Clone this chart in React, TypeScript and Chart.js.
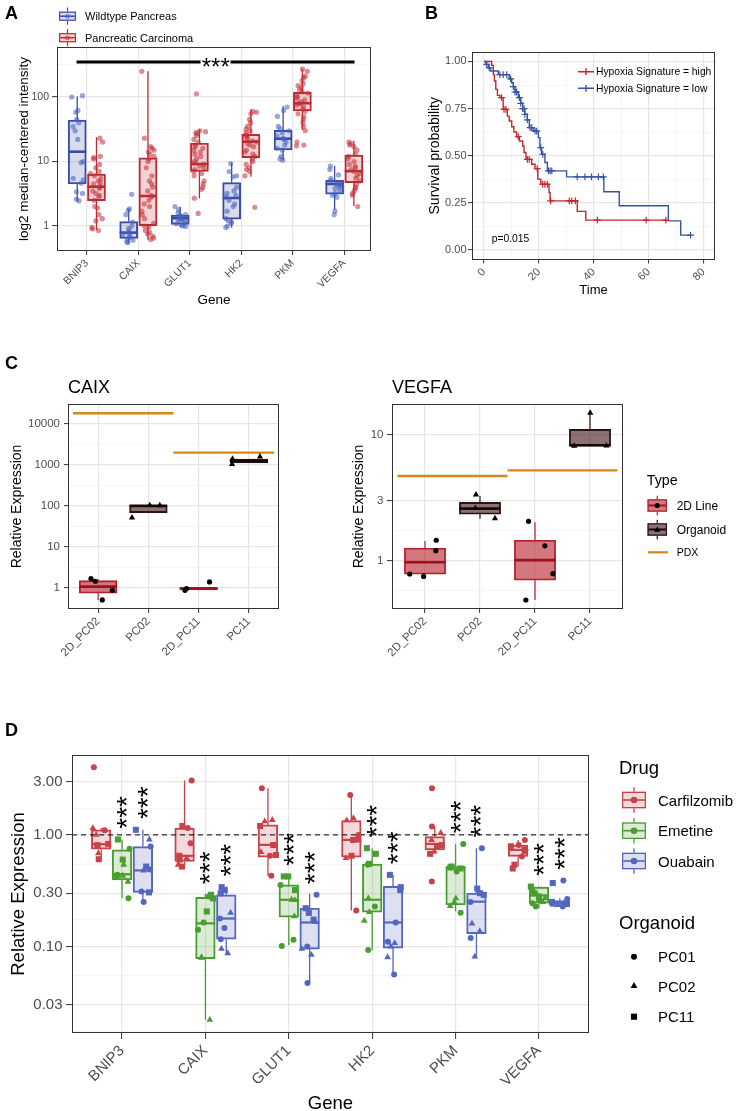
import React, { useEffect, useRef } from "react";
import { Chart, registerables } from "chart.js";

Chart.register(...registerables);

const FONT = "'Liberation Sans', Arial, Helvetica, sans-serif";
Chart.defaults.font.family = FONT;

/* ================= Panel A data ================= */
const genesA = ["BNIP3", "CAIX", "GLUT1", "HK2", "PKM", "VEGFA"];
const groupsA = ["Wildtype Pancreas", "Pancreatic Carcinoma"];
const yTicksA = [1, 10, 100];
const wtQ1 = [4.5, 0.645, 1.06, 1.28, 15.1, 3.13];
const wtMed = [14.2, 0.79, 1.32, 2.72, 22.6, 4.48];
const wtQ3 = [44, 1.17, 1.48, 4.7, 30.5, 5.1];
const wtLo = [2.4, 0.54, 0.97, 0.94, 10.5, 1.77];
const wtHi = [102, 1.81, 1.99, 9.6, 72.5, 8.6];
const pcQ1 = [2.47, 1.01, 7.05, 11.5, 60.7, 4.7];
const pcMed = [4.07, 2.92, 9.15, 20.3, 80, 7.1];
const pcQ3 = [6.4, 11.4, 19.2, 26.4, 118, 12.6];
const pcLo = [0.87, 0.61, 2.69, 5.8, 30.8, 2.04];
const pcHi = [23.7, 250, 31.6, 64.5, 272, 21];
const wtPts = [
  [105, 100, 62, 58, 45, 40, 35, 30, 22, 10, 9.6, 5.5, 5.2, 4.6, 3.4, 3.2, 2.6, 2.45],
  [3.1, 1.85, 1.75, 1.5, 1.15, 1.0, 0.92, 0.85, 0.78, 0.74, 0.7, 0.66, 0.63, 0.6, 0.57, 0.55],
  [2.0, 1.8, 1.6, 1.5, 1.45, 1.4, 1.35, 1.3, 1.27, 1.22, 1.18, 1.12, 1.08, 1.04, 1.0, 0.98],
  [9.3, 7.0, 6.0, 5.8, 4.0, 3.5, 3.2, 3.0, 2.8, 2.5, 2.2, 2.0, 1.7, 1.3, 1.22, 1.15, 1.1, 1.0, 0.95],
  [70, 62, 50, 35, 32, 30, 28, 25, 23, 22, 20, 18, 16, 15, 12, 11, 10.5],
  [8.5, 7.5, 6.2, 5.5, 5.0, 4.8, 4.5, 4.4, 4.2, 4.0, 3.8, 3.5, 3.2, 3.0, 2.8, 1.7, 1.5],
];
const pcPts = [
  [23, 20, 12, 11.5, 11, 9, 8, 7, 6.5, 6, 5.5, 5, 4.8, 4.5, 4.2, 4, 3.8, 3.5, 3.2, 3, 2.8, 2.5, 2, 1.9, 1.5, 1.3, 1.2, 0.95, 0.9, 0.85],
  [250, 23, 17, 16, 15, 14, 13, 12, 11, 10, 8, 6, 5, 4.5, 4, 3.5, 3, 2.8, 2.5, 2.2, 2, 1.7, 1.5, 1.3, 1.1, 1.0, 0.95, 0.85, 0.8, 0.75, 0.7, 0.65, 0.62],
  [112, 30, 29, 28, 27, 25, 22, 20, 18, 17, 16, 15, 14, 13, 12, 11, 10, 9.5, 9, 8.5, 8, 7.5, 7, 6.5, 6, 5, 4.5, 4, 3.7, 2.7, 1.57],
  [60, 58, 55, 45, 40, 35, 32, 30, 28, 26, 25, 24, 22, 21, 20, 19, 18, 17, 15, 14, 13, 12, 11, 10, 9, 8, 7.5, 7, 6, 1.95],
  [270, 250, 210, 200, 180, 160, 150, 140, 130, 120, 115, 110, 100, 95, 90, 85, 80, 78, 75, 70, 65, 60, 55, 50, 45, 40, 35, 30, 20, 18, 17.5],
  [20, 19, 18, 17, 15, 13, 12, 11, 10, 9, 8.5, 8, 7.5, 7, 6.5, 6, 5.5, 5, 4.5, 4, 3.8, 3.5, 3.2, 3, 2],
];
const sigLevelA = 350;
const sigFromA = -0.2;
const sigToA = 5.2;
const sigLabelA = "***";

/* ================= Panel B data ================= */
const kmLabels = ["Hypoxia Signature = high", "Hypoxia Signature = low"];
const kmPValue = "p=0.015";
const kmHighTimes = [2.8, 3.4, 3.8, 4.3, 4.9, 5.8, 7.0, 8.5, 9.2, 10.1, 10.9, 11.9, 12.9, 14.1, 14.6, 15.3, 17.4, 18.6, 19.6, 20.7, 23.7, 24.1, 34.0, 37.1];
const kmHighSurv = [0.979, 0.93, 0.896, 0.852, 0.82, 0.808, 0.746, 0.71, 0.684, 0.654, 0.626, 0.601, 0.578, 0.552, 0.517, 0.481, 0.455, 0.432, 0.376, 0.349, 0.305, 0.261, 0.205, 0.159];
const kmHighEnd = 66.6;
const kmHighCensor = [6.4, 7.3, 8.0, 12.5, 15.8, 16.5, 19.4, 21.4, 22.2, 23.1, 24.3, 31.1, 32.0, 33.3, 41.3, 59.1, 66.3];
const kmLowTimes = [0.7, 1.6, 2.4, 5.2, 9.2, 10.1, 10.7, 11.3, 12.5, 13.4, 14.1, 14.9, 15.8, 16.5, 18.0, 19.8, 20.4, 21.0, 22.2, 23.1, 30.1, 43.7, 49.3, 67.2, 71.7];
const kmLowSurv = [0.984, 0.966, 0.949, 0.93, 0.908, 0.887, 0.866, 0.838, 0.808, 0.778, 0.75, 0.72, 0.69, 0.649, 0.631, 0.596, 0.543, 0.508, 0.464, 0.42, 0.388, 0.309, 0.235, 0.155, 0.079];
const kmLowEnd = 75.3;
const kmLowCensor = [1.0, 1.9, 5.8, 7.0, 8.3, 9.7, 10.7, 11.3, 11.9, 12.9, 13.4, 14.1, 14.6, 14.9, 15.8, 16.8, 17.4, 18.6, 19.2, 20.7, 21.4, 23.5, 24.1, 24.7, 34.0, 36.8, 39.2, 41.7, 43.5, 75.3];

/* ================= Panel C data ================= */
const cCats = ["2D_PC02", "PC02", "2D_PC11", "PC11"];
const cTypes = ["2D Line", "Organoid", "PDX"];
const cTypeOfCat = [0, 1, 0, 1];
const pdxGroups = [[0, 1], [2, 3]];
const caixQ1 = [0.727, 68, 0.88, 1114];
const caixMed = [1.06, 100, 0.95, 1247];
const caixQ3 = [1.48, 101, 1.02, 1396];
const caixLo = [0.5, 68, 0.86, 1114];
const caixHi = [1.63, 103, 1.02, 1396];
const caixPts = [[1.43, 1.66, 0.86, 0.5], [102, 103, 51.4], [0.945, 0.86, 1.375], [1592, 1396, 1033]];
const caixPdx = [18240, 1995];
const vegfaQ1 = [0.78, 2.33, 0.699, 8.08];
const vegfaMed = [0.97, 2.58, 1.01, 8.2];
const vegfaQ3 = [1.26, 2.89, 1.45, 10.95];
const vegfaLo = [0.76, 2.15, 0.488, 8.08];
const vegfaHi = [1.43, 3.25, 2.01, 14.6];
const vegfaPts = [[1.45, 1.2, 0.784, 0.75], [2.16, 2.61, 3.33], [2.05, 1.31, 0.789, 0.488], [14.8, 8.13, 8.1]];
const vegfaPdx = [4.68, 5.19];

/* ================= Panel D data ================= */
const dGenes = ["BNIP3", "CAIX", "GLUT1", "HK2", "PKM", "VEGFA"];
const dDrugs = ["Carfilzomib", "Emetine", "Ouabain"];
const dOrganoids = ["PC01", "PC02", "PC11"];
const refLineD = 1;
const carfQ1 = [0.744, 0.577, 0.631, 0.631, 0.734, 0.64];
const carfMed = [0.825, 0.649, 0.814, 0.902, 0.83, 0.734];
const carfQ3 = [1.11, 1.147, 1.229, 1.344, 0.966, 0.81];
const carfLo = [0.6, 0.52, 0.429, 0.21, 0.676, 0.52];
const carfHi = [1.15, 3.07, 2.62, 2.28, 1.19, 0.9];
const emetQ1 = [0.395, 0.0776, 0.183, 0.203, 0.236, 0.244];
const emetMed = [0.444, 0.161, 0.262, 0.262, 0.51, 0.286];
const emetQ3 = [0.734, 0.275, 0.356, 0.546, 0.52, 0.34];
const emetLo = [0.271, 0.022, 0.103, 0.093, 0.206, 0.22];
const emetHi = [0.91, 0.296, 0.424, 0.76, 0.825, 0.344];
const ouabQ1 = [0.305, 0.116, 0.0946, 0.0966, 0.13, 0.228];
const ouabMed = [0.48, 0.178, 0.164, 0.164, 0.252, 0.244];
const ouabQ3 = [0.786, 0.29, 0.22, 0.345, 0.3, 0.258];
const ouabLo = [0.253, 0.087, 0.047, 0.0569, 0.0814, 0.228];
const ouabHi = [1.11, 0.345, 0.296, 0.438, 0.76, 0.27];
const carfPts = [
  [4.04, 1.0, 1.1, 1.15, 0.81, 0.79, 0.685, 0.605, 0.83],
  [3.07, 1.2, 1.15, 0.84, 0.62, 0.6, 0.52, 0.54, 0.65],
  [2.62, 1.32, 1.36, 0.81, 0.66, 0.65, 0.43, 1.2, 0.7],
  [2.28, 1.41, 1.0, 0.91, 0.65, 0.62, 0.21, 1.35, 0.9],
  [2.62, 1.19, 1.04, 0.71, 0.676, 0.81, 0.79, 0.382, 0.9],
  [0.9, 0.79, 0.734, 0.81, 0.54, 0.5, 0.64, 0.7, 0.75],
];
const carfOrg = [
  [0, 1, 0, 1, 2, 0, 1, 2, 2],
  [0, 2, 0, 0, 1, 2, 2, 1, 2],
  [0, 1, 1, 2, 2, 0, 0, 2, 1],
  [0, 1, 0, 2, 2, 1, 0, 1, 2],
  [0, 0, 1, 1, 2, 2, 2, 0, 1],
  [0, 2, 2, 0, 2, 2, 0, 1, 1],
];
const emetPts = [
  [0.91, 0.75, 0.54, 0.44, 0.43, 0.38, 0.27, 0.6, 0.42],
  [0.27, 0.28, 0.29, 0.206, 0.141, 0.164, 0.079, 0.022, 0.08],
  [0.424, 0.424, 0.356, 0.32, 0.262, 0.186, 0.101, 0.115, 0.26],
  [0.76, 0.676, 0.54, 0.27, 0.228, 0.203, 0.17, 0.093, 0.55],
  [0.83, 0.51, 0.47, 0.25, 0.2, 0.23, 0.5, 0.52, 0.27],
  [0.344, 0.31, 0.244, 0.228, 0.28, 0.26, 0.3, 0.27, 0.25],
];
const emetOrg = [
  [2, 0, 1, 0, 1, 1, 0, 2, 2],
  [2, 0, 2, 2, 0, 0, 1, 1, 1],
  [2, 2, 0, 2, 1, 1, 0, 0, 1],
  [2, 2, 0, 1, 0, 1, 1, 0, 2],
  [0, 2, 0, 1, 0, 1, 2, 2, 1],
  [2, 2, 0, 0, 2, 0, 1, 1, 1],
];
const ouabPts = [
  [1.11, 0.91, 0.786, 0.52, 0.49, 0.31, 0.305, 0.25, 0.48],
  [0.32, 0.34, 0.2, 0.146, 0.116, 0.087, 0.095, 0.3, 0.178],
  [0.29, 0.22, 0.174, 0.1, 0.084, 0.047, 0.095, 0.165, 0.2],
  [0.438, 0.32, 0.107, 0.1, 0.08, 0.056, 0.164, 0.34, 0.11],
  [0.76, 0.33, 0.3, 0.25, 0.16, 0.137, 0.119, 0.081, 0.29],
  [0.39, 0.37, 0.266, 0.25, 0.244, 0.228, 0.24, 0.235, 0.25],
];
const ouabOrg = [
  [2, 1, 0, 2, 0, 0, 2, 0, 1],
  [2, 2, 1, 0, 0, 1, 1, 2, 0],
  [0, 2, 2, 0, 1, 0, 1, 1, 2],
  [2, 2, 1, 1, 1, 0, 0, 2, 0],
  [0, 2, 2, 0, 1, 1, 0, 1, 2],
  [0, 2, 0, 2, 1, 0, 2, 1, 1],
];
const sigLabelD = "***";

/* ================= styles ================= */
const GRID_MAJOR = "#E6E6E6";
const GRID_MINOR = "#F2F2F2";
const FRAME = "#333333";
const TICK_TXT = "#4D4D4D";
const A_BLUE = "#3A4DA6";
const A_BLUE_FILL = "rgba(58,77,166,0.2)";
const A_BLUE_PT = "rgba(70,95,190,0.55)";
const A_RED = "#BF2A30";
const A_RED_FILL = "rgba(191,42,48,0.2)";
const A_RED_PT = "rgba(195,45,55,0.55)";
const KM_RED = "#C0282D";
const KM_BLUE = "#3853A4";
const C2D = "#B8202B";
const C2D_FILL = "rgba(180,30,40,0.6)";
const C2D_MED = "#9E1020";
const CORG = "#2A1010";
const CORG_FILL = "rgba(60,20,20,0.6)";
const CORG_MED = "#170606";
const PDX = "#D4881A";
const D_COL = ["#C9424A", "#4A9D2F", "#5566BF"];
const D_FILL = ["rgba(201,66,74,0.2)", "rgba(74,157,47,0.2)", "rgba(85,102,191,0.2)"];
const SHAPES = ["circle", "triangle", "rect"];

type Geo = { left: number; top: number; w: number; h: number; L: number; T: number; R: number; B: number; xAxisH: number };
const geoA: Geo = { left: 0, top: 0, w: 380, h: 310, L: 57, T: 47, R: 371, B: 251, xAxisH: 56 };
const geoB: Geo = { left: 380, top: 0, w: 356, h: 300, L: 92, T: 52, R: 335, B: 259.5, xAxisH: 37.5 };
const geoC1: Geo = { left: 0, top: 330, w: 340, h: 330, L: 68, T: 74, R: 279, B: 279, xAxisH: 50 };
const geoC2: Geo = { left: 340, top: 330, w: 396, h: 330, L: 52, T: 74, R: 283, B: 279, xAxisH: 50 };
const geoD: Geo = { left: 0, top: 690, w: 736, h: 421, L: 72, T: 65, R: 589, B: 343, xAxisH: 78 };

/* ================= helpers ================= */
function jitter(seed: number, i: number): number {
  const s = Math.sin(seed * 78.233 + (i + 1) * 12.9898) * 43758.5453;
  return s - Math.floor(s) - 0.5;
}
const unitPx = (g: Geo, min: number, max: number) => (g.R - g.L) / (max - min);

function axis(o: any): any {
  const minor: number[] = o.minor || [];
  const all = [...o.major, ...minor].sort((a, b) => a - b);
  const isMajor = (v: number) => o.major.some((m: number) => Math.abs(m - v) <= 1e-9 * Math.max(1, Math.abs(m)));
  const horiz = o.pos === "bottom";
  const tickMajor = (c: any) => (c && c.tick ? isMajor(c.tick.value) : true);
  return {
    type: o.type,
    position: o.pos,
    min: o.min,
    max: o.max,
    offset: false,
    afterFit: (s: any) => {
      if (horiz) s.height = o.fit;
      else s.width = o.fit;
    },
    afterBuildTicks: (s: any) => {
      s.ticks = all.map((v) => ({ value: v }));
    },
    ticks: {
      autoSkip: false,
      padding: o.pad,
      color: TICK_TXT,
      font: { size: o.size },
      minRotation: o.rot || 0,
      maxRotation: o.rot || 0,
      callback: (v: number) => (isMajor(v) ? o.fmt(v) : ""),
    },
    grid: {
      offset: false,
      drawTicks: true,
      tickLength: o.tickLen,
      tickWidth: 1,
      color: (c: any) => (tickMajor(c) ? GRID_MAJOR : GRID_MINOR),
      lineWidth: (c: any) => (tickMajor(c) ? 1.2 : 0.8),
      tickColor: (c: any) => (tickMajor(c) ? FRAME : "rgba(0,0,0,0)"),
    },
    border: { display: false },
    title: o.title
      ? {
          display: true,
          text: o.title,
          color: "#000",
          font: { size: o.titleSize, lineHeight: o.titleLH || 1 },
          padding: { top: o.titlePad || 0, bottom: o.titlePad || 0 },
        }
      : { display: false },
  };
}

function baseOptions(g: Geo, scales: any): any {
  return {
    responsive: false,
    maintainAspectRatio: false,
    animation: false,
    devicePixelRatio: 1,
    events: [],
    layout: { padding: { left: 0, top: g.T, right: g.w - g.R, bottom: g.h - g.B - g.xAxisH } },
    plugins: { legend: { display: false }, tooltip: { enabled: false }, title: { display: false } },
    scales,
  };
}

const framePlugin = {
  id: "frame",
  afterDraw(chart: any) {
    const { ctx, chartArea: a } = chart;
    ctx.save();
    ctx.strokeStyle = FRAME;
    ctx.lineWidth = 1;
    ctx.strokeRect(Math.round(a.left) + 0.5, Math.round(a.top) + 0.5, Math.round(a.right - a.left) - 1, Math.round(a.bottom - a.top) - 1);
    ctx.restore();
  },
};

const boxPlugin = {
  id: "boxstats",
  afterDatasetDraw(chart: any, args: any) {
    const ds = chart.data.datasets[args.index];
    if (!ds || !ds.boxStats) return;
    const ctx = chart.ctx;
    const xs = chart.scales.x;
    const ys = chart.scales.y;
    const a = chart.chartArea;
    const half = ds.barThickness / 2;
    ctx.save();
    ctx.beginPath();
    ctx.rect(a.left, a.top, a.right - a.left, a.bottom - a.top);
    ctx.clip();
    for (const b of ds.boxStats) {
      const x = xs.getPixelForValue(b.x);
      ctx.strokeStyle = ds.borderColor;
      ctx.lineWidth = ds.borderWidth;
      ctx.beginPath();
      ctx.moveTo(x, ys.getPixelForValue(b.q3));
      ctx.lineTo(x, ys.getPixelForValue(b.hi));
      ctx.moveTo(x, ys.getPixelForValue(b.q1));
      ctx.lineTo(x, ys.getPixelForValue(b.lo));
      ctx.stroke();
      const ym = ys.getPixelForValue(b.med);
      ctx.strokeStyle = ds.medianColor || ds.borderColor;
      ctx.lineWidth = ds.medianWidth;
      ctx.beginPath();
      ctx.moveTo(x - half, ym);
      ctx.lineTo(x + half, ym);
      ctx.stroke();
    }
    ctx.restore();
  },
};

function decor(draw: (ctx: CanvasRenderingContext2D, chart: any) => void) {
  return {
    id: "decor",
    afterDraw(chart: any) {
      const ctx = chart.ctx;
      ctx.save();
      draw(ctx, chart);
      ctx.restore();
    },
  };
}

function text(ctx: CanvasRenderingContext2D, s: string, x: number, y: number, size: number, color = "#000", align: CanvasTextAlign = "left") {
  ctx.font = `${size}px ${FONT}`;
  ctx.fillStyle = color;
  ctx.textAlign = align;
  ctx.textBaseline = "alphabetic";
  ctx.fillText(s, x, y);
}

function centerText(ctx: CanvasRenderingContext2D, s: string, cx: number, cy: number, size: number, rot: number) {
  ctx.font = `${size}px ${FONT}`;
  ctx.textAlign = "left";
  ctx.textBaseline = "alphabetic";
  ctx.fillStyle = "#000";
  const m = ctx.measureText(s);
  ctx.save();
  ctx.translate(cx, cy);
  ctx.rotate(rot);
  ctx.fillText(s, -(m.actualBoundingBoxRight - m.actualBoundingBoxLeft) / 2, (m.actualBoundingBoxAscent - m.actualBoundingBoxDescent) / 2);
  ctx.restore();
}

function shape(ctx: CanvasRenderingContext2D, kind: string, x: number, y: number, r: number, color: string) {
  ctx.fillStyle = color;
  ctx.beginPath();
  if (kind === "circle") ctx.arc(x, y, r, 0, Math.PI * 2);
  else if (kind === "triangle") {
    for (let k = 0; k < 3; k++) {
      const a = (k * 2 * Math.PI) / 3;
      const px = x + Math.sin(a) * r;
      const py = y - Math.cos(a) * r;
      if (k === 0) ctx.moveTo(px, py);
      else ctx.lineTo(px, py);
    }
    ctx.closePath();
  } else {
    const s = r * Math.SQRT1_2;
    ctx.rect(x - s, y - s, 2 * s, 2 * s);
  }
  ctx.fill();
}

function boxGlyph(ctx: CanvasRenderingContext2D, x0: number, x1: number, cy: number, hh: number, wh: number, stroke: string, fill: string, lw: number, mlw: number, med?: string) {
  const cx = (x0 + x1) / 2;
  ctx.strokeStyle = stroke;
  ctx.lineWidth = lw;
  ctx.beginPath();
  ctx.moveTo(cx, cy - wh);
  ctx.lineTo(cx, cy - hh);
  ctx.moveTo(cx, cy + hh);
  ctx.lineTo(cx, cy + wh);
  ctx.stroke();
  ctx.fillStyle = fill;
  ctx.fillRect(x0, cy - hh, x1 - x0, 2 * hh);
  ctx.strokeRect(x0 + lw / 2, cy - hh + lw / 2, x1 - x0 - lw, 2 * hh - lw);
  ctx.strokeStyle = med || stroke;
  ctx.lineWidth = mlw;
  ctx.beginPath();
  ctx.moveTo(x0 + lw, cy);
  ctx.lineTo(x1 - lw, cy);
  ctx.stroke();
}

function boxDataset(xs: number[], q1: number[], med: number[], q3: number[], lo: number[], hi: number[], idx: number[], thick: number, col: string, fill: string, lw: number, mlw: number, medCol?: string) {
  return {
    type: "bar",
    grouped: false,
    order: 3,
    barThickness: thick,
    data: idx.map((i, k) => ({ x: xs[k], y: [q1[i], q3[i]] })),
    backgroundColor: fill,
    borderColor: col,
    borderWidth: lw,
    borderSkipped: false,
    boxStats: idx.map((i, k) => ({ x: xs[k], lo: lo[i], q1: q1[i], med: med[i], q3: q3[i], hi: hi[i] })),
    medianWidth: mlw,
    medianColor: medCol,
  };
}

/* ================= Panel A ================= */
function buildA() {
  const g = geoA;
  const xmin = -0.58;
  const xmax = 5.52;
  const bw = 0.35 * unitPx(g, xmin, xmax);
  const dodge = 0.187;
  const groups = [
    { q1: wtQ1, med: wtMed, q3: wtQ3, lo: wtLo, hi: wtHi, pts: wtPts, off: -dodge, col: A_BLUE, fill: A_BLUE_FILL, pt: A_BLUE_PT },
    { q1: pcQ1, med: pcMed, q3: pcQ3, lo: pcLo, hi: pcHi, pts: pcPts, off: dodge, col: A_RED, fill: A_RED_FILL, pt: A_RED_PT },
  ];
  const datasets: any[] = [];
  const idx = genesA.map((_, i) => i);
  groups.forEach((gr, k) => {
    datasets.push(boxDataset(idx.map((i) => i + gr.off), gr.q1, gr.med, gr.q3, gr.lo, gr.hi, idx, bw, gr.col, gr.fill, 1.3, 2.6));
    datasets.push({
      type: "scatter",
      order: 0,
      data: gr.pts.flatMap((vals, i) => vals.map((v, j) => ({ x: i + gr.off + jitter(k * 10 + i, j) * 0.24, y: v }))),
      pointRadius: 2.6,
      pointBackgroundColor: gr.pt,
      backgroundColor: gr.pt,
      pointBorderWidth: 0,
      borderWidth: 0,
    });
  });
  datasets.push({
    type: "line",
    order: 1,
    showLine: true,
    data: [{ x: sigFromA, y: sigLevelA }, { x: sigToA, y: sigLevelA }],
    borderColor: "#000",
    borderWidth: 3,
    pointRadius: 0,
  });
  const scales = {
    x: axis({ pos: "bottom", type: "linear", min: xmin, max: xmax, major: idx, fmt: (v: number) => genesA[Math.round(v)], size: 10.5, tickLen: 4, pad: 2, fit: g.xAxisH, rot: 45, title: "Gene", titleSize: 13.5, titlePad: 0 }),
    y: axis({ pos: "left", type: "logarithmic", min: 0.41, max: 596, major: yTicksA, minor: [3.162, 31.62, 316.2], fmt: (v: number) => String(v), size: 10.5, tickLen: 5, pad: 3, fit: g.L, title: "log2 median-centered intensity", titleSize: 13.5, titlePad: 17.25 }),
  };
  const deco = decor((ctx, chart) => {
    const xs = chart.scales.x;
    const ys = chart.scales.y;
    const cx = xs.getPixelForValue((sigFromA + sigToA) / 2);
    const cy = ys.getPixelForValue(sigLevelA);
    ctx.fillStyle = "#fff";
    ctx.fillRect(cx - 15, cy - 6, 30, 12);
    centerText(ctx, sigLabelA, cx, cy + 1, 24, 0);
    const legendY = [16.2, 37.7];
    groups.forEach((gr, k) => {
      boxGlyph(ctx, 59, 76, legendY[k], 4.6, 8.6, gr.col, gr.fill, 1.2, 1.5);
      shape(ctx, "circle", 67.5, legendY[k], 2.5, gr.pt);
      text(ctx, groupsA[k], 85, legendY[k] + 3.9, 11);
    });
  });
  return { type: "scatter", data: { datasets }, options: baseOptions(g, scales), plugins: [boxPlugin, framePlugin, deco] };
}

/* ================= Panel B ================= */
function survAt(times: number[], surv: number[], t: number) {
  let s = 1;
  for (let i = 0; i < times.length; i++) if (times[i] <= t) s = surv[i];
  return s;
}
function buildB() {
  const g = geoB;
  const curves = [
    { times: kmHighTimes, surv: kmHighSurv, end: kmHighEnd, cens: kmHighCensor, col: KM_RED, order: 2 },
    { times: kmLowTimes, surv: kmLowSurv, end: kmLowEnd, cens: kmLowCensor, col: KM_BLUE, order: 1 },
  ];
  const datasets: any[] = [];
  curves.forEach((c) => {
    datasets.push({
      type: "line",
      order: c.order + 1,
      showLine: true,
      stepped: true,
      data: [{ x: 0, y: 1 }, ...c.times.map((t, i) => ({ x: t, y: c.surv[i] })), { x: c.end, y: c.surv[c.surv.length - 1] }],
      borderColor: c.col,
      borderWidth: 1.4,
      pointRadius: 0,
      fill: false,
    });
    datasets.push({
      type: "scatter",
      order: c.order - 1,
      data: c.cens.map((t) => ({ x: t, y: survAt(c.times, c.surv, t) })),
      pointStyle: "cross",
      pointRadius: 3.4,
      pointBorderColor: c.col,
      borderColor: c.col,
      pointBorderWidth: 1.2,
      borderWidth: 1.2,
    });
  });
  const scales = {
    x: axis({ pos: "bottom", type: "linear", min: -4.37, max: 84.2, major: [0, 20, 40, 60, 80], minor: [10, 30, 50, 70], fmt: (v: number) => String(v), size: 11, tickLen: 4, pad: 2, fit: g.xAxisH, rot: 45, title: "Time", titleSize: 13, titlePad: 0 }),
    y: axis({ pos: "left", type: "linear", min: -0.05, max: 1.05, major: [0, 0.25, 0.5, 0.75, 1], minor: [0.125, 0.375, 0.625, 0.875], fmt: (v: number) => v.toFixed(2), size: 11, tickLen: 4, pad: 1.5, fit: g.L, title: "Survival probability", titleSize: 14, titlePad: 48 }),
  };
  const deco = decor((ctx) => {
    const ys = [71.7, 88.3];
    curves.forEach((c, k) => {
      ctx.strokeStyle = c.col;
      ctx.lineWidth = 1.4;
      ctx.beginPath();
      ctx.moveTo(198, ys[k]);
      ctx.lineTo(214, ys[k]);
      ctx.moveTo(206, ys[k] - 3.4);
      ctx.lineTo(206, ys[k] + 3.4);
      ctx.stroke();
      text(ctx, kmLabels[k], 216, ys[k] + 3.7, 10.3);
    });
    text(ctx, kmPValue, 111.7, 241.7, 10.3);
  });
  return { type: "scatter", data: { datasets }, options: baseOptions(g, scales), plugins: [framePlugin, deco] };
}

/* ================= Panel C ================= */
function buildC(g: Geo, title: string, q1: number[], med: number[], q3: number[], lo: number[], hi: number[], pts: number[][], pdx: number[], yAx: any, seed: number, legend: boolean) {
  const xmin = -0.6;
  const xmax = 3.6;
  const bw = 0.75 * unitPx(g, xmin, xmax);
  const idx2D = cCats.map((_, i) => i).filter((i) => cTypeOfCat[i] === 0);
  const idxOrg = cCats.map((_, i) => i).filter((i) => cTypeOfCat[i] === 1);
  const datasets: any[] = [
    boxDataset(idx2D, q1, med, q3, lo, hi, idx2D, bw, C2D, C2D_FILL, 1.2, 2.6, C2D_MED),
    boxDataset(idxOrg, q1, med, q3, lo, hi, idxOrg, bw, CORG, CORG_FILL, 1.2, 2.6, CORG_MED),
  ];
  pdxGroups.forEach((grp, k) => {
    datasets.push({
      type: "line",
      order: 1,
      showLine: true,
      data: [{ x: grp[0] - 0.5, y: pdx[k] }, { x: grp[grp.length - 1] + 0.5, y: pdx[k] }],
      borderColor: PDX,
      borderWidth: 2.4,
      pointRadius: 0,
    });
  });
  const pdata: any[] = [];
  const pstyle: string[] = [];
  const prad: number[] = [];
  pts.forEach((vals, i) =>
    vals.forEach((v, j) => {
      pdata.push({ x: i + jitter(seed + i, j) * 0.7, y: v });
      const isOrg = cTypeOfCat[i] === 1;
      pstyle.push(isOrg ? "triangle" : "circle");
      prad.push(isOrg ? 3.6 : 2.6);
    })
  );
  datasets.push({ type: "scatter", order: 0, data: pdata, pointStyle: pstyle, pointRadius: prad, pointBackgroundColor: "#000", backgroundColor: "#000", pointBorderWidth: 0, borderWidth: 0 });
  const scales = {
    x: axis({ pos: "bottom", type: "linear", min: xmin, max: xmax, major: [0, 1, 2, 3], fmt: (v: number) => cCats[Math.round(v)], size: 11.5, tickLen: 4, pad: 1.5, fit: g.xAxisH, rot: 45 }),
    y: axis({ ...yAx, pos: "left", type: "logarithmic", size: 11.5, fit: g.L, title: "Relative Expression", titleSize: 14 }),
  };
  const deco = decor((ctx) => {
    text(ctx, title, g.L, 63.3, 18);
    if (legend) {
      text(ctx, "Type", 306.7, 155, 14.3);
      boxGlyph(ctx, 307.5, 327, 175.5, 6.2, 9.8, C2D, C2D_FILL, 1.2, 2, C2D_MED);
      shape(ctx, "circle", 317.2, 175.5, 2.6, "#000");
      text(ctx, cTypes[0], 336.7, 180, 12);
      boxGlyph(ctx, 307.5, 327, 199.5, 6.2, 9.8, CORG, CORG_FILL, 1.2, 2, CORG_MED);
      shape(ctx, "triangle", 317.2, 200, 3.6, "#000");
      text(ctx, cTypes[1], 336.7, 204, 12);
      ctx.strokeStyle = PDX;
      ctx.lineWidth = 2.2;
      ctx.beginPath();
      ctx.moveTo(308, 222.3);
      ctx.lineTo(328, 222.3);
      ctx.stroke();
      text(ctx, cTypes[2], 336.7, 226, 10.5);
    }
  });
  return { type: "scatter", data: { datasets }, options: baseOptions(g, scales), plugins: [boxPlugin, framePlugin, deco] };
}
const buildC1 = () =>
  buildC(geoC1, "CAIX", caixQ1, caixMed, caixQ3, caixLo, caixHi, caixPts, caixPdx, { min: 0.301, max: 30800, major: [1, 10, 100, 1000, 10000], minor: [0.3162, 3.162, 31.62, 316.2, 3162], fmt: (v: number) => String(v), tickLen: 4, pad: 4, titlePad: 10.5 }, 3, false);
const buildC2 = () =>
  buildC(geoC2, "VEGFA", vegfaQ1, vegfaMed, vegfaQ3, vegfaLo, vegfaHi, vegfaPts, vegfaPdx, { min: 0.414, max: 17.4, major: [1, 3, 10], minor: [0.5774, 1.732, 5.477], fmt: (v: number) => String(v), tickLen: 5, pad: 3.5, titlePad: 12 }, 21, true);

/* ================= Panel D ================= */
function buildD() {
  const g = geoD;
  const xmin = -0.6;
  const xmax = 5.6;
  const bw = 0.235 * unitPx(g, xmin, xmax);
  const radii = [3, 3.9, 4.3];
  const drugs = [
    { q1: carfQ1, med: carfMed, q3: carfQ3, lo: carfLo, hi: carfHi, pts: carfPts, org: carfOrg },
    { q1: emetQ1, med: emetMed, q3: emetQ3, lo: emetLo, hi: emetHi, pts: emetPts, org: emetOrg },
    { q1: ouabQ1, med: ouabMed, q3: ouabQ3, lo: ouabLo, hi: ouabHi, pts: ouabPts, org: ouabOrg },
  ];
  const idx = dGenes.map((_, i) => i);
  const datasets: any[] = [];
  drugs.forEach((d, di) => {
    const off = (di - 1) * 0.25;
    datasets.push(boxDataset(idx.map((i) => i + off), d.q1, d.med, d.q3, d.lo, d.hi, idx, bw, D_COL[di], D_FILL[di], 1.3, 2.2));
    const pdata: any[] = [];
    const st: string[] = [];
    const rr: number[] = [];
    d.pts.forEach((vals, gi) =>
      vals.forEach((v, j) => {
        pdata.push({ x: gi + off + jitter(100 + di * 10 + gi, j) * 0.2, y: v });
        st.push(SHAPES[d.org[gi][j]]);
        rr.push(radii[d.org[gi][j]]);
      })
    );
    datasets.push({ type: "scatter", order: 0, data: pdata, pointStyle: st, pointRadius: rr, pointBackgroundColor: D_COL[di], backgroundColor: D_COL[di], pointBorderWidth: 0, borderWidth: 0 });
  });
  datasets.push({
    type: "line",
    order: 1,
    showLine: true,
    data: [{ x: xmin, y: refLineD }, { x: xmax, y: refLineD }],
    borderColor: "#000",
    borderWidth: 1,
    borderDash: [5, 4],
    pointRadius: 0,
  });
  const scales = {
    x: axis({ pos: "bottom", type: "linear", min: xmin, max: xmax, major: idx, fmt: (v: number) => dGenes[Math.round(v)], size: 15, tickLen: 6, pad: 3, fit: g.xAxisH, rot: 45, title: "Gene", titleSize: 18.5, titleLH: 0.8, titlePad: 0 }),
    y: axis({ pos: "left", type: "logarithmic", min: 0.01675, max: 5.2, major: [0.03, 0.1, 0.3, 1, 3], minor: [0.01732, 0.05477, 0.1732, 0.5477, 1.732], fmt: (v: number) => v.toFixed(2), size: 15, tickLen: 6, pad: 3.5, fit: g.L, title: "Relative Expression", titleSize: 18.5, titlePad: 9.75 }),
  };
  const deco = decor((ctx, chart) => {
    const xs = chart.scales.x;
    const ys = chart.scales.y;
    [1, 2].forEach((di) => {
      const off = (di - 1) * 0.25;
      drugs[di].pts.forEach((vals, gi) => {
        const top = Math.max(...vals);
        centerText(ctx, sigLabelD, xs.getPixelForValue(gi + off), ys.getPixelForValue(top * 1.75), 28, -Math.PI / 2);
      });
    });
    text(ctx, "Drug", 619, 84, 18.5);
    const ly = [110, 140.7, 171];
    dDrugs.forEach((name, k) => {
      boxGlyph(ctx, 622, 646, ly[k], 8.3, 12.7, D_COL[k], D_FILL[k], 1.3, 1.6);
      shape(ctx, "circle", 634, ly[k], 3.3, D_COL[k]);
      text(ctx, name, 658, ly[k] + 5.5, 15);
    });
    text(ctx, "Organoid", 619, 239.3, 18.5);
    const oy = [266.7, 296, 326.7];
    dOrganoids.forEach((name, k) => {
      shape(ctx, SHAPES[k], 634, oy[k], radii[k], "#000");
      text(ctx, name, 658, oy[k] + 5.5, 15);
    });
  });
  return { type: "scatter", data: { datasets }, options: baseOptions(g, scales), plugins: [boxPlugin, framePlugin, deco] };
}

/* ================= components ================= */
function Panel({ geo, build }: { geo: Geo; build: () => any }) {
  const ref = useRef<HTMLCanvasElement>(null);
  useEffect(() => {
    const chart = new Chart(ref.current as HTMLCanvasElement, build());
    return () => chart.destroy();
  }, []);
  return (
    <div style={{ position: "absolute", left: geo.left, top: geo.top, width: geo.w, height: geo.h }}>
      <canvas ref={ref} width={geo.w} height={geo.h} style={{ width: geo.w, height: geo.h, display: "block" }} />
    </div>
  );
}

function Letter({ x, y, t }: { x: number; y: number; t: string }) {
  return (
    <div style={{ position: "absolute", left: x, top: y, fontFamily: FONT, fontWeight: 700, fontSize: 18, lineHeight: "18px", color: "#000" }}>{t}</div>
  );
}

export default function App() {
  return (
    <div style={{ position: "absolute", left: 0, top: 0, width: 736, height: 1111, background: "#fff", overflow: "hidden" }}>
      <Panel geo={geoA} build={buildA} />
      <Panel geo={geoB} build={buildB} />
      <Panel geo={geoC1} build={buildC1} />
      <Panel geo={geoC2} build={buildC2} />
      <Panel geo={geoD} build={buildD} />
      <Letter x={5} y={4} t="A" />
      <Letter x={425} y={4} t="B" />
      <Letter x={5} y={354} t="C" />
      <Letter x={5} y={721} t="D" />
    </div>
  );
}
